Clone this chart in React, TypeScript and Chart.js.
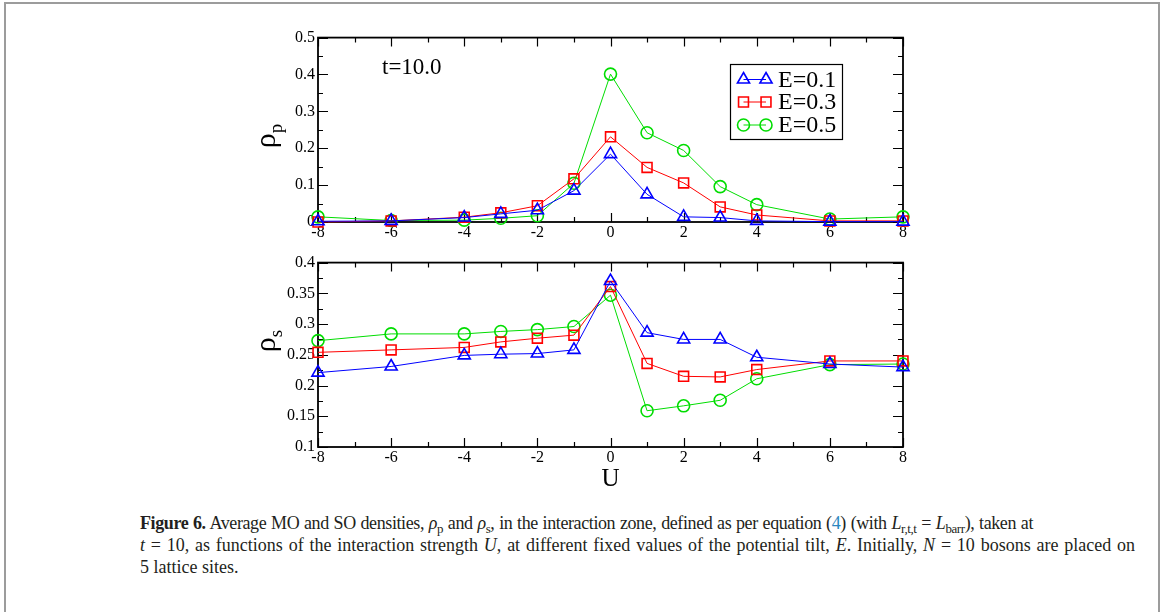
import React, { useEffect, useRef } from 'react';
import { Chart, registerables } from 'chart.js';
import { drawPoint } from 'chart.js/helpers';

Chart.register(...registerables);

// ---- data ----
const U_VALUES = [-8, -6, -4, -3, -2, -1, 0, 1, 2, 3, 4, 6, 8];

const RHO_P_E01 = [0.002, 0.003, 0.012, 0.022, 0.032, 0.085, 0.184, 0.075, 0.014, 0.012, 0.003, 0.001, 0.001];
const RHO_P_E03 = [0.0, 0.003, 0.013, 0.025, 0.044, 0.117, 0.231, 0.148, 0.106, 0.041, 0.019, 0.003, 0.003];
const RHO_P_E05 = [0.014, 0.004, 0.005, 0.01, 0.017, 0.105, 0.401, 0.242, 0.194, 0.096, 0.047, 0.008, 0.014];

const RHO_S_E01 = [0.221, 0.231, 0.249, 0.251, 0.252, 0.258, 0.37, 0.286, 0.275, 0.275, 0.246, 0.235, 0.23];
const RHO_S_E03 = [0.254, 0.258, 0.262, 0.271, 0.277, 0.282, 0.361, 0.236, 0.215, 0.214, 0.226, 0.24, 0.24];
const RHO_S_E05 = [0.273, 0.284, 0.284, 0.288, 0.291, 0.296, 0.347, 0.159, 0.167, 0.176, 0.211, 0.234, 0.235];

const SERIES_LABELS = ['E=0.1', 'E=0.3', 'E=0.5'];
const SERIES_COLORS = ['#0000ff', '#ff0000', '#00dd00'];
const SERIES_MARKERS = ['triangle', 'rect', 'circle'];
const SERIES_RADII = [7, 7, 6];

const X_RANGE = [-8, 8];
const X_STEP = 2;
const TOP_Y_RANGE = [0, 0.5];
const TOP_Y_STEP = 0.1;
const BOT_Y_RANGE = [0.1, 0.4];
const BOT_Y_STEP = 0.05;

const TIME_LABEL = 't=10.0';
const X_TITLE = 'U';

const SERIF = '"Liberation Serif", "DejaVu Serif", serif';

type PanelCfg = {
  sub: string;
  labelCenterY: number; // canvas coords
  legend: boolean;
  timeLabel: boolean;
  xTitle: boolean;
};

function makePlugin(cfg: PanelCfg) {
  return {
    id: 'panelDecor',
    beforeDatasetsDraw(chart: any) {
      const { ctx, chartArea: a, scales } = chart;
      const xs = scales.x;
      const ys = scales.y;
      ctx.save();
      ctx.strokeStyle = '#000';
      ctx.lineWidth = 1.2;
      const xMaj = xs.ticks.map((t: any) => t.value);
      const yMaj = ys.ticks.map((t: any) => t.value);
      const mids = (arr: number[]) => {
        const r: number[] = [];
        for (let i = 0; i < arr.length - 1; i++) r.push((arr[i] + arr[i + 1]) / 2);
        return r;
      };
      const drawX = (vals: number[], len: number) => {
        vals.forEach((v) => {
          const p = Math.round(xs.getPixelForValue(v)) + 0.5;
          ctx.beginPath();
          ctx.moveTo(p, a.bottom);
          ctx.lineTo(p, a.bottom - len);
          ctx.moveTo(p, a.top);
          ctx.lineTo(p, a.top + len);
          ctx.stroke();
        });
      };
      const drawY = (vals: number[], len: number) => {
        vals.forEach((v) => {
          const p = Math.round(ys.getPixelForValue(v)) + 0.5;
          ctx.beginPath();
          ctx.moveTo(a.left, p);
          ctx.lineTo(a.left + len, p);
          ctx.moveTo(a.right, p);
          ctx.lineTo(a.right - len, p);
          ctx.stroke();
        });
      };
      drawX(xMaj, 9);
      drawX(mids(xMaj), 5);
      drawY(yMaj, 10);
      drawY(mids(yMaj), 5);
      ctx.lineWidth = 1.8;
      ctx.strokeRect(a.left, a.top, a.right - a.left, a.bottom - a.top);
      ctx.restore();
    },
    afterDraw(chart: any) {
      const { ctx, chartArea: a } = chart;
      ctx.save();
      ctx.fillStyle = '#000';
      // rotated y label rho with subscript
      ctx.translate(17, cfg.labelCenterY);
      ctx.rotate(-Math.PI / 2);
      ctx.font = `30px ${SERIF}`;
      const w1 = ctx.measureText('\u03c1').width;
      ctx.font = `19px ${SERIF}`;
      const w2 = ctx.measureText(cfg.sub).width;
      const start = -(w1 + w2) / 2;
      ctx.textBaseline = 'alphabetic';
      ctx.textAlign = 'left';
      ctx.font = `30px ${SERIF}`;
      ctx.fillText('\u03c1', start, 0);
      ctx.font = `19px ${SERIF}`;
      ctx.fillText(cfg.sub, start + w1, 7);
      ctx.restore();

      if (cfg.timeLabel) {
        ctx.save();
        ctx.fillStyle = '#000';
        ctx.font = `23px ${SERIF}`;
        ctx.textBaseline = 'alphabetic';
        ctx.fillText(TIME_LABEL, 124, 49);
        ctx.restore();
      }

      if (cfg.legend) {
        ctx.save();
        ctx.fillStyle = '#fff';
        ctx.fillRect(472, 39, 113, 75);
        ctx.strokeStyle = '#000';
        ctx.lineWidth = 1.2;
        ctx.strokeRect(472.5, 39.5, 112, 75);
        const rows = [54.5, 77, 100];
        chart.data.datasets.forEach((ds: any, i: number) => {
          const y = rows[i];
          ctx.strokeStyle = ds.borderColor;
          ctx.lineWidth = 1;
          ctx.beginPath();
          ctx.moveTo(485.5, y);
          ctx.lineTo(508, y);
          ctx.stroke();
          ctx.fillStyle = 'rgba(0,0,0,0)';
          ctx.lineWidth = ds.pointBorderWidth;
          drawPoint(ctx, { pointStyle: ds.pointStyle, radius: ds.pointRadius, rotation: 0, borderWidth: ds.pointBorderWidth } as any, 485.5, y);
          drawPoint(ctx, { pointStyle: ds.pointStyle, radius: ds.pointRadius, rotation: 0, borderWidth: ds.pointBorderWidth } as any, 508, y);
          ctx.fillStyle = '#000';
          ctx.font = `24px ${SERIF}`;
          ctx.textBaseline = 'middle';
          ctx.textAlign = 'left';
          ctx.fillText(ds.label, 520, y + 1);
        });
        ctx.restore();
      }

      if (cfg.xTitle) {
        ctx.save();
        ctx.fillStyle = '#000';
        ctx.font = `25px ${SERIF}`;
        ctx.textAlign = 'center';
        ctx.textBaseline = 'middle';
        ctx.fillText(X_TITLE, (a.left + a.right) / 2, 229);
        ctx.restore();
      }
    },
  };
}

function fmt(v: number) {
  return String(Math.round(v * 1000) / 1000);
}

function buildConfig(series: number[][], yRange: number[], yStep: number, xAxisHeight: number, cfg: PanelCfg) {
  return {
    type: 'line' as const,
    data: {
      datasets: series.map((vals, i) => ({
        label: SERIES_LABELS[i],
        data: U_VALUES.map((u, j) => ({ x: u, y: vals[j] })),
        borderColor: SERIES_COLORS[i],
        borderWidth: 1,
        pointStyle: SERIES_MARKERS[i],
        pointRadius: SERIES_RADII[i],
        pointBorderWidth: 1.6,
        pointBorderColor: SERIES_COLORS[i],
        pointBackgroundColor: 'rgba(0,0,0,0)',
        tension: 0,
        fill: false,
        clip: false,
      })),
    },
    options: {
      responsive: false,
      animation: false,
      layout: { padding: { top: 10, right: 10, left: 0, bottom: 0 } },
      plugins: { legend: { display: false }, tooltip: { enabled: false } },
      events: [],
      scales: {
        x: {
          type: 'linear',
          min: X_RANGE[0],
          max: X_RANGE[1],
          grid: { display: false, drawTicks: false },
          border: { display: false },
          ticks: {
            stepSize: X_STEP,
            color: '#000',
            padding: 1,
            maxRotation: 0,
            font: { family: SERIF, size: 16 },
            callback: (v: any) => fmt(Number(v)),
          },
          afterFit: (s: any) => {
            s.height = xAxisHeight;
          },
        },
        y: {
          type: 'linear',
          min: yRange[0],
          max: yRange[1],
          grid: { display: false, drawTicks: false },
          border: { display: false },
          ticks: {
            stepSize: yStep,
            color: '#000',
            padding: 3,
            font: { family: SERIF, size: 16 },
            callback: (v: any) => fmt(Number(v)),
          },
          afterFit: (s: any) => {
            s.width = 60;
          },
        },
      },
    },
    plugins: [makePlugin(cfg)],
  };
}

function Panel(props: { top: number; height: number; xAxisHeight: number; series: number[][]; yRange: number[]; yStep: number; cfg: PanelCfg }) {
  const ref = useRef<HTMLCanvasElement>(null);
  useEffect(() => {
    if (!ref.current) return;
    const chart = new Chart(ref.current, buildConfig(props.series, props.yRange, props.yStep, props.xAxisHeight, props.cfg) as any);
    return () => chart.destroy();
  }, []);
  return (
    <canvas
      ref={ref}
      width={655}
      height={props.height}
      style={{ position: 'absolute', left: 258, top: props.top, width: 655, height: props.height, display: 'block' }}
    />
  );
}

const subStyle: React.CSSProperties = { fontSize: '0.72em', position: 'relative', top: '0.28em', lineHeight: 0 };
const lineStyle = (w: number, ls: number): React.CSSProperties => ({
  width: w,
  height: 22,
  textAlign: 'justify',
  textAlignLast: 'justify' as any,
  whiteSpace: 'normal',
  letterSpacing: ls,
});

export default function App() {
  return (
    <div style={{ position: 'absolute', left: 0, top: 0, width: 1165, height: 612, overflow: 'hidden', background: '#fff' }}>
      <div style={{ position: 'absolute', left: 4, top: 2, width: 1156, height: 700, border: '2px solid #9c9c9c', boxSizing: 'border-box' }} />
      <Panel
        top={25}
        height={222}
        xAxisHeight={25}
        series={[RHO_P_E01, RHO_P_E03, RHO_P_E05]}
        yRange={TOP_Y_RANGE}
        yStep={TOP_Y_STEP}
        cfg={{ sub: 'p', labelCenterY: 111, legend: true, timeLabel: true, xTitle: false }}
      />
      <Panel
        top={250}
        height={247}
        xAxisHeight={50}
        series={[RHO_S_E01, RHO_S_E03, RHO_S_E05]}
        yRange={BOT_Y_RANGE}
        yStep={BOT_Y_STEP}
        cfg={{ sub: 's', labelCenterY: 91, legend: false, timeLabel: false, xTitle: true }}
      />
      <div
        style={{
          position: 'absolute',
          left: 140,
          top: 512,
          fontFamily: SERIF,
          fontSize: 18,
          lineHeight: '22px',
          color: '#231f20',
        }}
      >
        <div style={lineStyle(893, -0.4)}>
          <b>Figure 6.</b> Average MO and SO densities, <i>ρ</i><span style={subStyle}>p</span> and <i>ρ</i>
          <span style={subStyle}>s</span>, in the interaction zone, defined as per equation (
          <span style={{ color: '#2b87c0' }}>4</span>) (with <i>L</i>
          <span style={subStyle}>r,t,t</span> = <i>L</i>
          <span style={subStyle}>barr</span>), taken at
        </div>
        <div style={lineStyle(995, 0)}>
          <i>t</i> = 10, as functions of the interaction strength <i>U</i>, at different fixed values of the potential tilt, <i>E</i>. Initially, <i>N</i> = 10 bosons are placed on
        </div>
        <div style={{ height: 22, whiteSpace: 'nowrap' }}>5 lattice sites.</div>
      </div>
    </div>
  );
}
